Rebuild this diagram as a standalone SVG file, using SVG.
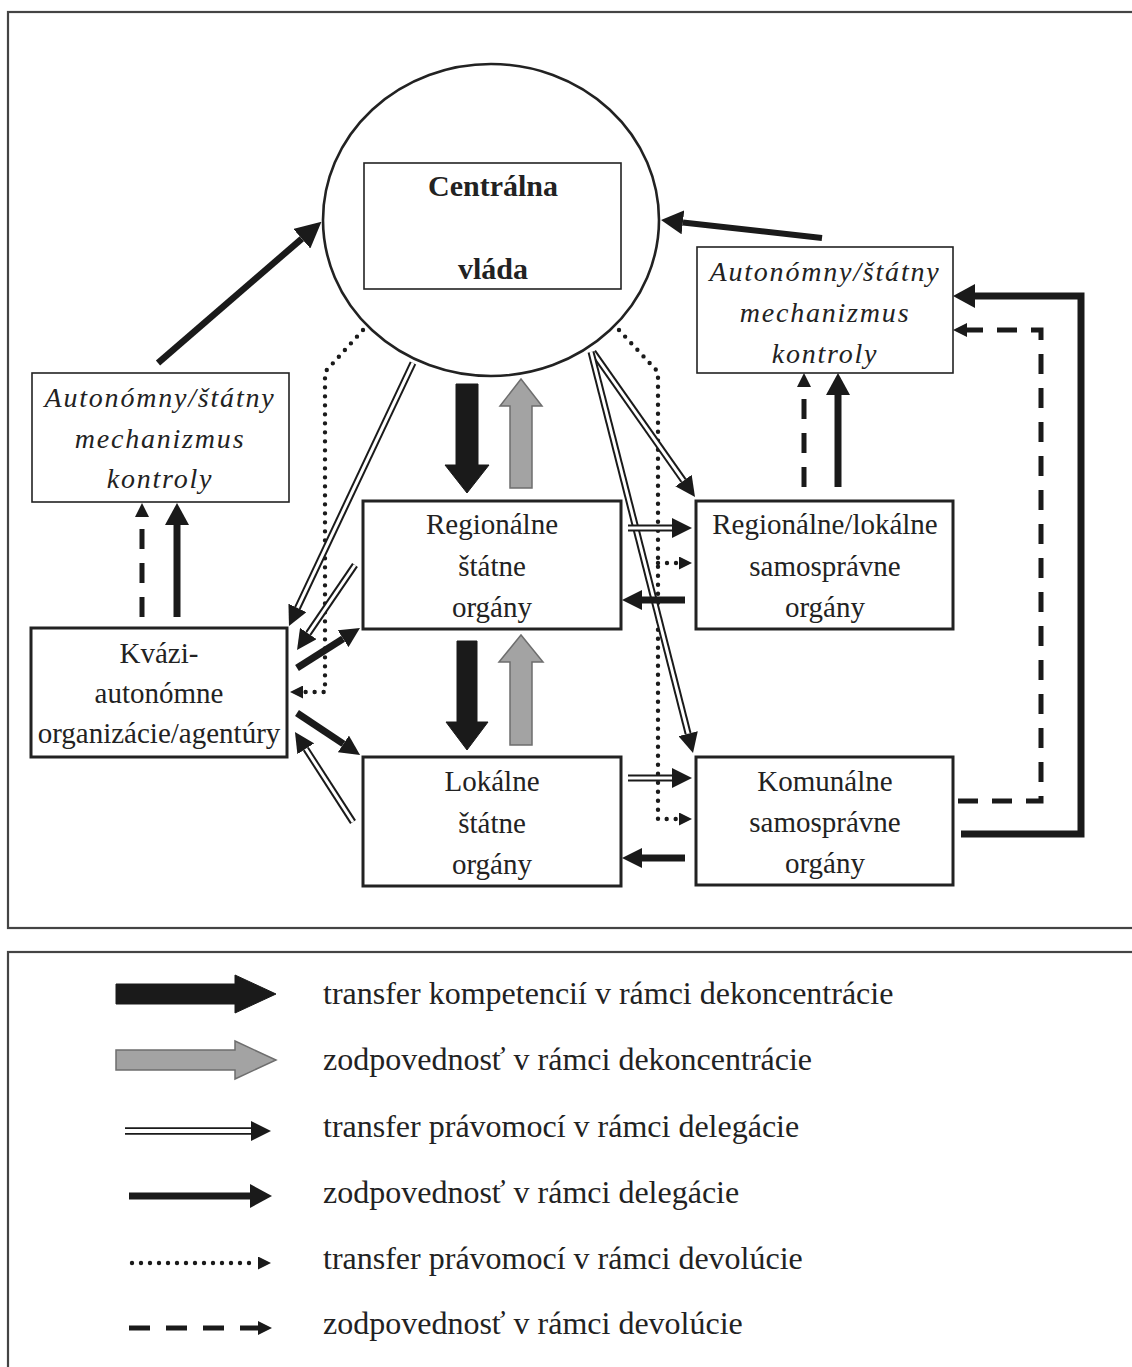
<svg xmlns="http://www.w3.org/2000/svg" width="1132" height="1367" viewBox="0 0 1132 1367">
<style>
text{font-family:"Liberation Serif","Times New Roman",serif;fill:#222;text-anchor:middle}
.bt{font-size:29px}
.it{font-size:28px;font-style:italic;letter-spacing:1.8px}
.bold{font-size:30px;font-weight:bold}
.lg{font-size:32px;text-anchor:start}
.box{fill:#fff;stroke:#222;stroke-width:3}
.thin{fill:#fff;stroke:#222;stroke-width:1.6}
.frame{fill:none;stroke:#444;stroke-width:2.2}
.sol{fill:none;stroke:#1a1a1a;stroke-width:7}
.dsh{fill:none;stroke:#1a1a1a;stroke-width:5;stroke-dasharray:20 14}
.dot{fill:none;stroke:#1a1a1a;stroke-width:4.4;stroke-dasharray:0 9;stroke-linecap:round}
.dbo{fill:none;stroke:#1a1a1a;stroke-width:7}
.dbi{fill:none;stroke:#fff;stroke-width:3}
.blk{fill:#1a1a1a;stroke:#1a1a1a;stroke-width:1}
.gry{fill:#a3a3a3;stroke:#6e6e6e;stroke-width:1.5}
</style>
<defs>
<marker id="hs" markerUnits="userSpaceOnUse" markerWidth="22" markerHeight="24" refX="0" refY="12" orient="auto"><path d="M0,0 L22,12 L0,24 Z" fill="#1a1a1a"/></marker>
<marker id="hb" markerUnits="userSpaceOnUse" markerWidth="26" markerHeight="26" refX="0" refY="13" orient="auto"><path d="M0,0 L26,13 L0,26 Z" fill="#1a1a1a"/></marker>
<marker id="hd" markerUnits="userSpaceOnUse" markerWidth="20" markerHeight="20" refX="0" refY="10" orient="auto"><path d="M0,0 L20,10 L0,20 Z" fill="#1a1a1a"/></marker>
<marker id="hp" markerUnits="userSpaceOnUse" markerWidth="14" markerHeight="14" refX="0" refY="7" orient="auto"><path d="M0,0 L14,7 L0,14 Z" fill="#1a1a1a"/></marker>
<marker id="ht" markerUnits="userSpaceOnUse" markerWidth="13" markerHeight="13" refX="0" refY="6.5" orient="auto"><path d="M0,0 L13,6.5 L0,13 Z" fill="#1a1a1a"/></marker>
</defs>
<rect width="1132" height="1367" fill="#fff"/>
<rect class="frame" x="8" y="12" width="1140" height="916"/>
<rect class="frame" x="8" y="952" width="1140" height="430"/>

<g id="connectors">
<path class="sol" d="M158,363 L301.8,238.7" style="stroke-width:6.5" marker-end="url(#hb)"/>
<path class="sol" d="M822,238 L682.9,222.4" style="stroke-width:6" marker-end="url(#hs)"/>
<path class="sol" d="M177,617 V525" marker-end="url(#hs)"/>
<path class="dsh" d="M142,617 V517" marker-end="url(#hp)"/>
<path class="sol" d="M838,487 V395" marker-end="url(#hs)"/>
<path class="dsh" d="M804,487 V387" marker-end="url(#hp)"/>
<path class="sol" d="M961,834 H1081 V296 H975" marker-end="url(#hs)"/>
<path class="dsh" d="M958,801 H1041 V330 H967" marker-end="url(#hp)"/>
<polygon class="blk" points="456,384 478,384 478,465 489,465 467,493 445,465 456,465"/>
<polygon class="gry" points="510,488 532,488 532,406 542,406 521,379 500,406 510,406"/>
<polygon class="blk" points="457,641 477,641 477,722 488,722 467,750 446,722 457,722"/>
<polygon class="gry" points="510,745 532,745 532,662 543,662 521,635 499,662 510,662"/>
<path class="dot" d="M363,330 L325,372 V692 H303" marker-end="url(#ht)"/>
<path class="dot" d="M619,330 L658,372 V819 H679" marker-end="url(#ht)"/>
<path class="dot" d="M658,563 H679" marker-end="url(#ht)"/>
<path class="dbo" d="M413,363 L297.5,607.9" marker-end="url(#hd)"/><path class="dbi" d="M413,363 L297.5,607.9"/>
<path class="dbo" d="M355,565 L308.3,633.5" marker-end="url(#hd)"/><path class="dbi" d="M355,565 L308.3,633.5"/>
<path class="dbo" d="M353,822 L305.8,748.8" marker-end="url(#hd)"/><path class="dbi" d="M353,822 L305.8,748.8"/>
<path class="dbo" d="M593,352 L683.5,480.6" marker-end="url(#hd)"/><path class="dbi" d="M593,352 L683.5,480.6"/>
<path class="dbo" d="M591,352 L688.1,733.6" marker-end="url(#hd)"/><path class="dbi" d="M591,352 L688.1,733.6"/>
<path class="dbo" d="M628,528 H672" marker-end="url(#hd)"/><path class="dbi" d="M628,528 H672"/>
<path class="dbo" d="M628,778 H672" marker-end="url(#hd)"/><path class="dbi" d="M628,778 H672"/>
<path class="sol" d="M297,668 L343.1,638.7" marker-end="url(#hd)"/>
<path class="sol" d="M297,713 L343.4,743.9" marker-end="url(#hd)"/>
<path class="sol" d="M685,600 H642" marker-end="url(#hd)"/>
<path class="sol" d="M685,858 H642" marker-end="url(#hd)"/>
</g>

<g id="central">
<ellipse cx="491" cy="220" rx="168" ry="156" fill="none" stroke="#222" stroke-width="2.6"/>
<rect class="thin" x="364" y="163" width="257" height="126"/>
<text class="bold" x="493" y="196">Centrálna</text>
<text class="bold" x="493" y="279">vláda</text>
</g>
<g id="control-left">
<rect class="thin" x="32" y="373" width="257" height="129"/>
<text class="it" x="160" y="407">Autonómny/štátny</text>
<text class="it" x="160" y="448">mechanizmus</text>
<text class="it" x="160" y="488">kontroly</text>
</g>
<g id="control-right">
<rect class="thin" x="697" y="247" width="256" height="126"/>
<text class="it" x="825" y="281">Autonómny/štátny</text>
<text class="it" x="825" y="322">mechanizmus</text>
<text class="it" x="825" y="363">kontroly</text>
</g>
<g id="kvazi">
<rect class="box" x="31" y="628" width="256" height="129"/>
<text class="bt" x="159" y="663">Kvázi-</text>
<text class="bt" x="159" y="703">autonómne</text>
<text class="bt" x="159" y="743">organizácie/agentúry</text>
</g>
<g id="regionalne-statne">
<rect class="box" x="363" y="501" width="258" height="128"/>
<text class="bt" x="492" y="534">Regionálne</text>
<text class="bt" x="492" y="576">štátne</text>
<text class="bt" x="492" y="617">orgány</text>
</g>
<g id="regionalne-samospravne">
<rect class="box" x="696" y="501" width="257" height="128"/>
<text class="bt" x="825" y="534">Regionálne/lokálne</text>
<text class="bt" x="825" y="576">samosprávne</text>
<text class="bt" x="825" y="617">orgány</text>
</g>
<g id="lokalne-statne">
<rect class="box" x="363" y="757" width="258" height="129"/>
<text class="bt" x="492" y="791">Lokálne</text>
<text class="bt" x="492" y="833">štátne</text>
<text class="bt" x="492" y="874">orgány</text>
</g>
<g id="komunalne">
<rect class="box" x="696" y="757" width="257" height="128"/>
<text class="bt" x="825" y="791">Komunálne</text>
<text class="bt" x="825" y="832">samosprávne</text>
<text class="bt" x="825" y="873">orgány</text>
</g>

<g id="legend">
<polygon class="blk" points="116,984 235,984 235,975 276,994 235,1013 235,1004 116,1004"/>
<polygon class="gry" points="116,1050 235,1050 235,1041 276,1060 235,1079 235,1070 116,1070"/>
<path class="dbo" d="M125,1131 H251" style="stroke-width:7.5" marker-end="url(#hd)"/><path class="dbi" d="M125,1131 H251" style="stroke-width:4"/>
<path class="sol" d="M129,1196 H250" marker-end="url(#hs)"/>
<path class="dot" d="M132,1263 H258" marker-end="url(#ht)"/>
<path class="dsh" d="M129,1328 H258" style="stroke-dasharray:21 16" marker-end="url(#hp)"/>
<text class="lg" x="323" y="1004">transfer kompetencií v rámci dekoncentrácie</text>
<text class="lg" x="323" y="1070">zodpovednosť v rámci dekoncentrácie</text>
<text class="lg" x="323" y="1137">transfer právomocí v rámci delegácie</text>
<text class="lg" x="323" y="1203">zodpovednosť v rámci delegácie</text>
<text class="lg" x="323" y="1269">transfer právomocí v rámci devolúcie</text>
<text class="lg" x="323" y="1334">zodpovednosť v rámci devolúcie</text>
</g>
</svg>
